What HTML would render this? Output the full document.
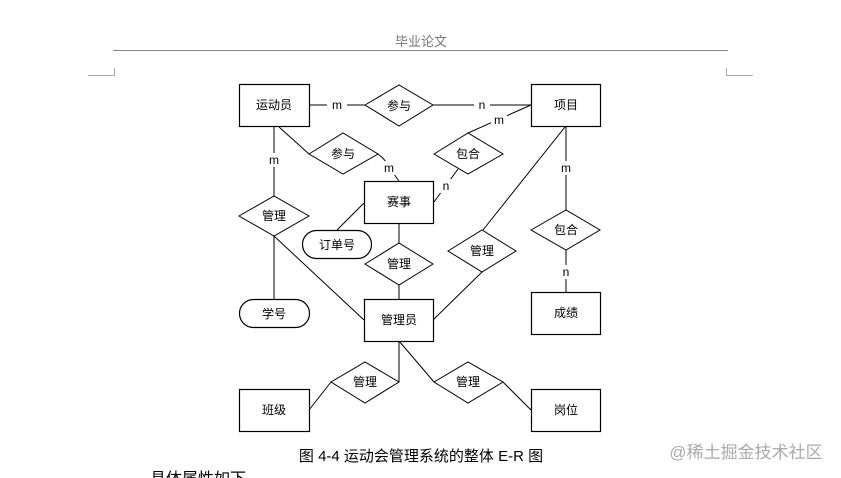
<!DOCTYPE html>
<html><head><meta charset="utf-8"><style>
html,body{margin:0;padding:0;background:#fff;width:841px;height:478px;overflow:hidden}
svg{display:block}
text{font-family:"Liberation Sans","Noto Sans CJK SC",sans-serif}
</style></head><body>
<svg width="841" height="478" viewBox="0 0 841 478" xmlns="http://www.w3.org/2000/svg">
<text x="421" y="46" font-size="13" fill="#777" text-anchor="middle">毕业论文</text>
<line x1="113" y1="50.5" x2="728" y2="50.5" stroke="#888" stroke-width="1"/>
<polyline points="88,75.5 114.5,75.5 114.5,68" fill="none" stroke="#aaa"/>
<polyline points="726.5,68 726.5,75.5 753,75.5" fill="none" stroke="#aaa"/>
<g stroke="#000" stroke-width="1" fill="none">
<line x1="309" y1="105" x2="365" y2="105"/>
<line x1="433" y1="105" x2="531" y2="105"/>
<line x1="531" y1="105" x2="468" y2="133"/>
<line x1="458" y1="169" x2="434" y2="202"/>
<line x1="274" y1="126" x2="274" y2="196"/>
<line x1="274" y1="236" x2="274" y2="299"/>
<line x1="279" y1="127" x2="309" y2="154"/>
<path d="M378,154 Q386,160 388,166 L399,181"/>
<line x1="274" y1="236" x2="364" y2="320"/>
<line x1="337" y1="230" x2="364" y2="203"/>
<line x1="399" y1="223" x2="399" y2="243"/>
<line x1="399" y1="285" x2="399" y2="299"/>
<line x1="565" y1="127" x2="483" y2="230"/>
<line x1="482" y1="272" x2="433" y2="320"/>
<line x1="566" y1="126" x2="566" y2="210"/>
<line x1="566" y1="250" x2="566" y2="292"/>
<line x1="399" y1="341" x2="399" y2="382"/>
<line x1="331" y1="382" x2="309" y2="410"/>
<line x1="399" y1="341" x2="434" y2="382"/>
<line x1="503" y1="382" x2="531" y2="410"/>
</g>
<g fill="#fff">
<rect x="327" y="98" width="20" height="14"/><rect x="474" y="98" width="16" height="14"/>
<rect x="491" y="113" width="16" height="14"/><rect x="440" y="179" width="12" height="14"/>
<rect x="266" y="153" width="16" height="14"/><rect x="381" y="161" width="16" height="14"/>
<rect x="558" y="161" width="16" height="14"/><rect x="560" y="265" width="12" height="14"/>
</g>
<g font-size="12" fill="#000" text-anchor="middle">
<text x="337" y="109">m</text><text x="482" y="109">n</text>
<text x="499" y="124">m</text><text x="446" y="190">n</text>
<text x="274" y="164">m</text><text x="389" y="172">m</text>
<text x="566" y="172">m</text><text x="566" y="276">n</text>
</g>
<g stroke="#000" stroke-width="1.2" fill="#fff">
<rect x="239.5" y="84.5" width="70" height="42"/>
<rect x="531.5" y="84.5" width="69" height="42"/>
<rect x="364.5" y="181.5" width="69" height="42"/>
<rect x="364.5" y="299.5" width="69" height="42"/>
<rect x="531.5" y="292.5" width="69" height="42"/>
<rect x="239.5" y="389.5" width="70" height="42"/>
<rect x="531.5" y="389.5" width="69" height="42"/>
<rect x="302.5" y="230.5" width="69" height="28" rx="14"/>
<rect x="239.5" y="299.5" width="70" height="28" rx="14"/>
</g>
<g stroke="#000" stroke-width="1" fill="#fff">
<polygon points="365,105 399,85 433,105 399,126"/>
<polygon points="309,154 343,133 378,154 343,174"/>
<polygon points="434,154 468,133 503,154 468,174"/>
<polygon points="239,216 274,196 309,216 274,236"/>
<polygon points="365,264 399,243 433,264 399,285"/>
<polygon points="448,251 482,230 516,251 482,272"/>
<polygon points="531,230 566,210 600,230 566,250"/>
<polygon points="331,382 365,362 399,382 365,403"/>
<polygon points="434,382 468,362 503,382 468,403"/>
</g>
<g font-size="12" fill="#000" text-anchor="middle">
<text x="274" y="109">运动员</text><text x="566" y="109">项目</text>
<text x="399" y="110">参与</text><text x="343" y="158">参与</text>
<text x="468" y="158">包合</text><text x="399" y="206">赛事</text>
<text x="274" y="220">管理</text><text x="337" y="249">订单号</text>
<text x="399" y="268">管理</text><text x="482" y="255">管理</text>
<text x="566" y="234">包合</text><text x="274" y="318">学号</text>
<text x="399" y="324">管理员</text><text x="566" y="317">成绩</text>
<text x="365" y="386">管理</text><text x="468" y="386">管理</text>
<text x="274" y="414">班级</text><text x="566" y="414">岗位</text>
</g>
<text x="421" y="461" font-size="15" fill="#000" text-anchor="middle">图 4-4  运动会管理系统的整体 E-R 图</text>
<text x="746" y="458" font-size="17" fill="#aaa" text-anchor="middle">@稀土掘金技术社区</text>
<text x="150" y="484" font-size="16" fill="#000">具体属性如下</text>
</svg>
</body></html>
